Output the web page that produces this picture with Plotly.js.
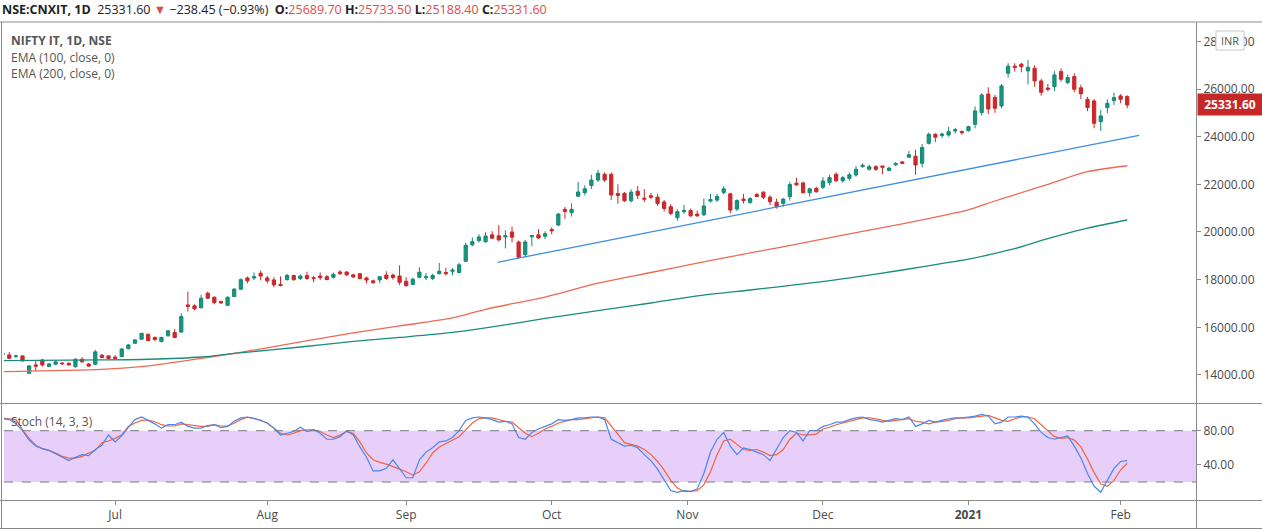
<!DOCTYPE html>
<html>
<head>
<meta charset="utf-8">
<script src="https://cdn.plot.ly/plotly-3.0.1.min.js"></script>
<style>
  html, body { margin: 0; padding: 0; background: #ffffff; }
  #chartDiv { width: 1262px; height: 530px; }
</style>
</head>
<body>
<div id="chartDiv"></div>
<script>
// daily OHLC of NIFTY IT, one entry per trading day (Jun 2020 - Feb 2021)
var opens = [14850,14840,14780,14800,14070,14420,14630,14360,14450,14500,14490,14350,14660,14460,14450,14830,14800,14750,14770,15100,
  15330,15500,15710,15570,15400,15640,15780,15800,16940,16900,16820,17430,17260,17080,16920,17290,17600,18070,18070,18270,
  18070,17990,17800,18000,18170,18050,18170,18080,18150,18120,18100,18320,18320,18200,18250,18070,17950,17990,18190,18190,
  18150,17930,17800,18100,18080,18050,18250,18300,18350,18300,18770,19460,19640,19590,19880,19840,19790,20000,19580,19050,
  19800,19880,19820,20100,20290,20950,20810,21500,21650,21950,22180,22420,22420,21610,21620,21310,21710,21420,21520,21460,
  21260,21060,20600,20850,20900,20750,20720,21300,21340,21660,21600,20960,21380,21240,21570,21670,21460,21250,21200,21480,
  22050,22060,21650,21830,21880,22070,22420,22150,22250,22390,22740,22630,22740,22770,22580,22820,22940,23140,23180,22880,
  23720,24100,24050,24070,24240,24220,24250,24520,25010,25790,25650,25290,26660,26960,27040,26760,26870,26340,26040,26100,
  26730,26270,26520,26050,25570,25500,24630,25220,25510,25710,25689.7];
var highs = [14950,14960,14850,14820,14420,14600,14670,14500,14600,14540,14530,14700,14740,14500,15050,14880,14830,14830,15130,15290,
  15500,15760,15730,15620,15610,15880,15930,16590,17500,16960,17360,17500,17300,17120,17290,17650,18050,18130,18300,18380,
  18150,18100,18140,18240,18210,18220,18330,18150,18300,18200,18300,18400,18350,18230,18270,18130,18000,18150,18350,18260,
  18600,18100,18080,18520,18280,18250,18700,18500,18480,18700,19550,19770,19900,19990,20030,20290,20070,20230,19640,19670,
  19870,20120,20030,20200,20800,21050,21200,22100,21960,22400,22600,22500,22500,22000,21680,21790,21930,21800,21640,21600,
  21340,21170,20950,21140,20980,20900,21400,21600,21600,21920,21650,21370,21600,21460,21640,21710,21540,21400,21430,22100,
  22280,22110,21850,21900,22300,22400,22500,22350,22500,22770,22880,22830,22800,22770,22740,22930,22980,23400,23450,23690,
  24170,24140,24170,24410,24370,24250,24460,25270,25830,26070,25750,26210,27080,27080,27100,27220,27000,26420,26210,26750,
  26860,26610,26660,26180,25670,25570,25120,25570,25850,25780,25733.5];
var lows = [14800,14670,14700,14560,14055,14170,14350,14330,14410,14430,14400,14300,14520,14350,14420,14700,14660,14650,14740,15080,
  15300,15480,15420,15430,15370,15620,15540,15770,16660,16710,16790,17200,16960,16990,16900,17270,17580,17850,17980,17970,
  17850,17680,17720,17960,17950,17980,17980,17890,17980,17980,18050,18200,18150,18080,18020,17850,17830,17850,17980,18000,
  17770,17700,17780,18050,17980,17980,18220,18170,18180,18290,18740,19400,19560,19550,19700,19600,19310,19560,18860,18940,
  19400,19710,19700,19900,20250,20550,20650,21480,21540,21800,22100,22100,21340,21190,21260,21230,21380,21250,21380,21100,
  20860,20700,20470,20770,20630,20630,20680,21240,21260,21580,20780,20880,21200,21180,21460,21380,21130,20980,21060,21320,
  21940,21600,21480,21650,21800,21960,22100,22070,22150,22320,22700,22580,22560,22420,22550,22760,22850,23130,22400,22710,
  23670,23770,23950,24000,24130,24080,24210,24350,24880,24950,25000,25190,26480,26730,26700,26190,26090,25720,25900,25910,
  26310,26200,25860,25570,25070,24350,24240,24990,25330,25400,25188.4];
var closes = [14900,14700,14800,14590,14380,14370,14420,14460,14550,14470,14420,14660,14550,14370,14970,14730,14690,14690,15090,15260,
  15470,15750,15440,15490,15570,15850,15570,16450,16870,16780,17220,17220,17040,17020,17260,17600,18000,17950,18120,18150,
  17950,17780,17750,18180,18000,18150,18050,18050,18080,18000,18220,18250,18200,18110,18040,17980,17870,18120,18050,18090,
  17890,17750,18020,18310,18120,18170,18350,18250,18400,18620,19440,19590,19790,19830,19740,19670,19840,19780,18940,19580,
  19850,19750,19930,20050,20750,20860,20950,21680,21810,22180,22460,22180,21550,21530,21310,21670,21540,21380,21460,21200,
  20990,20780,20850,20900,20680,20680,21090,21360,21490,21810,20920,21320,21320,21400,21490,21460,21270,21060,21380,21990,
  21980,21650,21810,21690,22140,22280,22150,22280,22400,22630,22800,22740,22630,22720,22680,22870,22880,23240,22810,23550,
  24100,23980,24110,24210,24290,24170,24420,25080,25750,25160,25190,26130,26960,26900,26940,26910,26340,25860,25990,26590,
  26410,26480,25990,25800,25220,24560,24870,25400,25640,25570,25331.6];

// moving averages read at sampled bars
var emaIdx  = [0,15,22,30,35,45,53,60,68,73,82,90,98,105,113,121,128,136,143,146,150,153,158,164,170];
var ema100  = [14138,14230,14377,14692,14902,15384,15762,16056,16391,16756,17270,17850,18300,18690,19120,19540,19920,20340,20740,20930,21300,21560,22000,22530,22780];
var ema200  = [14603,14629,14658,14754,14902,15174,15405,15573,15783,15972,16370,16700,17020,17314,17566,17818,18070,18405,18720,18860,19100,19300,19720,20160,20503];

// hand drawn trend line
var trendX = [74.8, 171.8];
var trendY = [18728, 24057];

// stochastic (14,3,3)
var stochK = [94,93,88,80,69,62,59,57,53,49,45,49,52,51,58,63,75,67,74,84,
  93,96,92,88,83,87,87,90,85,83,83,86,87,83.5,85,91,95,96,94.5,92,
  89,83,75,77,79,84,79,81,77,70,70,73,80,75,61,49,33,33,36,46,
  35,25,25,46,55,60,67,68,72,80,92,95,96,95,93,90,91,88,72,70,
  78,82,85,88,93,92,93,95,95,96,96,93,70,66,62,63,60,52,45,35,
  22,10,8,10,9,12,30,55,70,78,62,52,60,58,55,52,45,58,72,80,
  78,68,80,80,85,87,90,90,93,95,96,93,92,90,92,94,93,96,85,88,
  92,90,92,94,95,95,96,97,99,97,88,90,96,96,97,96,88,78,72,70,
  72,74,62,48,30,15,8,22,36,44,45];
var stochD = [94.5,94,93,81,71,63,59,57,54,50,48,48,50,54,57,66,68,71,75,85,
  89,92,92.5,90.5,87,85.5,85.5,88,87,85.5,85,85,87,85.5,85.5,88.7,93,95.7,94.5,92.5,
  88.7,83,77,75,77,80,81,81,79,75,72,75,79,77,67,54,46,43,41,38,
  35,32,28,32,42,54,61,65,69,73,81,89,94,95,95,93,91,90,84,77,
  73,77,82,85,89,91,93,93,94,95,96,95,86,76,66,64,62,58,52,44,
  34,22,13,9,9,10,17,32,52,68,70,64,58,57,58,55,51,52,58,70,
  77,75,75,76,82,84,87,89,91,93,95,95,94,92,91,92,93,94,91,90,
  88,90,91,92,94,95,95,96,97,98,95,92,91,94,96,96,94,87,79,73,
  71,72,69,61,47,31,18,15,22,34,42];

// month labels on the bar index axis
var monthPos = [17, 40, 61, 83, 103.5, 124, 146, 169];
var monthText = ['Jul', 'Aug', 'Sep', 'Oct', 'Nov', 'Dec', '<b>2021</b>', 'Feb'];

var priceTicks = [14000, 16000, 18000, 20000, 22000, 24000, 26000, 28000];

var barIdx = [];
for (var i = 0; i < closes.length; i++) barIdx.push(i);

var W = 1262, H = 530;
function px(x) { return x / W; } // pixel -> paper x
function py(y) { return 1 - y / H; } // pixel -> paper y

var upCol = '#138a74', downCol = '#c8282b';
var fnt = 'Open Sans, Noto Sans, sans-serif';

var data = [];
data.push({
  type: 'candlestick', x: barIdx, open: opens, high: highs, low: lows, close: closes,
  xaxis: 'x', yaxis: 'y',
  increasing: { line: { color: upCol, width: 1 }, fillcolor: '#1b9580' },
  decreasing: { line: { color: downCol, width: 1 }, fillcolor: '#cc2a2a' },
  whiskerwidth: 0, hoverinfo: 'none', showlegend: false
});
data.push({ type: 'scatter', mode: 'lines', x: emaIdx, y: ema100, line: { color: '#ec6a55', width: 1.3, shape: 'spline', smoothing: 0.8 }, xaxis: 'x', yaxis: 'y', showlegend: false, hoverinfo: 'none' });
data.push({ type: 'scatter', mode: 'lines', x: emaIdx, y: ema200, line: { color: '#1a8c7c', width: 1.3, shape: 'spline', smoothing: 0.8 }, xaxis: 'x', yaxis: 'y', showlegend: false, hoverinfo: 'none' });
data.push({ type: 'scatter', mode: 'lines', x: trendX, y: trendY, line: { color: '#3d8ee0', width: 1.3 }, xaxis: 'x', yaxis: 'y', showlegend: false, hoverinfo: 'none' });
data.push({ type: 'scatter', mode: 'lines', x: barIdx, y: stochD, line: { color: '#f0643c', width: 1.2 }, xaxis: 'x', yaxis: 'y2', showlegend: false, hoverinfo: 'none' });
data.push({ type: 'scatter', mode: 'lines', x: barIdx, y: stochK, line: { color: '#4a86ec', width: 1.2 }, xaxis: 'x', yaxis: 'y2', showlegend: false, hoverinfo: 'none' });

var frameCol = '#8a8a8a';
var shapes = [
  // overbought / oversold band
  { type: 'rect', xref: 'paper', yref: 'y2', x0: px(4), x1: px(1196), y0: 20, y1: 80, fillcolor: '#e8cffa', line: { width: 0 }, layer: 'below' },
  { type: 'line', xref: 'paper', yref: 'y2', x0: px(4), x1: px(1196), y0: 80, y1: 80, line: { color: '#787b86', width: 1, dash: 'dash' } },
  { type: 'line', xref: 'paper', yref: 'y2', x0: px(4), x1: px(1196), y0: 20, y1: 20, line: { color: '#787b86', width: 1, dash: 'dash' } },
  // frame
  { type: 'line', xref: 'paper', yref: 'paper', x0: px(0), x1: px(1262), y0: py(22), y1: py(22), line: { color: frameCol, width: 1 } },
  { type: 'line', xref: 'paper', yref: 'paper', x0: px(0), x1: px(1262), y0: py(403.5), y1: py(403.5), line: { color: frameCol, width: 1 } },
  { type: 'line', xref: 'paper', yref: 'paper', x0: px(0), x1: px(1262), y0: py(500.5), y1: py(500.5), line: { color: frameCol, width: 1 } },
  { type: 'line', xref: 'paper', yref: 'paper', x0: px(0), x1: px(1262), y0: py(528.5), y1: py(528.5), line: { color: frameCol, width: 1 } },
  { type: 'line', xref: 'paper', yref: 'paper', x0: px(1.5), x1: px(1.5), y0: py(22), y1: py(529), line: { color: frameCol, width: 1 } },
  { type: 'line', xref: 'paper', yref: 'paper', x0: px(1196.5), x1: px(1196.5), y0: py(22), y1: py(529), line: { color: frameCol, width: 1 } },
  // currency badge
  { type: 'rect', xref: 'paper', yref: 'paper', x0: px(1216), x1: px(1244), y0: py(50), y1: py(31), fillcolor: '#ffffff', line: { color: '#c8c8c8', width: 1 } }
];

var red = '#e04a4a';
var headerText = '<b>NSE:CNXIT, 1D</b>  25331.60 <span style="color:' + red + '">▼</span> −238.45 (−0.93%)  ' +
  '<b>O:</b><span style="color:' + red + '">25689.70</span> <b>H:</b><span style="color:' + red + '">25733.50</span> ' +
  '<b>L:</b><span style="color:' + red + '">25188.40</span> <b>C:</b><span style="color:' + red + '">25331.60</span>';

var legendCol = '#555555';
var annotations = [
  { xref: 'paper', yref: 'paper', x: px(0), y: py(10), xanchor: 'left', yanchor: 'middle', text: headerText, showarrow: false, font: { family: fnt, size: 12.5, color: '#222222' } },
  { xref: 'paper', yref: 'paper', x: px(9), y: py(41), xanchor: 'left', yanchor: 'middle', text: '<b>NIFTY IT, 1D, NSE</b>', showarrow: false, font: { family: fnt, size: 12, color: legendCol } },
  { xref: 'paper', yref: 'paper', x: px(9), y: py(58), xanchor: 'left', yanchor: 'middle', text: 'EMA (100, close, 0)', showarrow: false, font: { family: fnt, size: 12, color: legendCol } },
  { xref: 'paper', yref: 'paper', x: px(9), y: py(74), xanchor: 'left', yanchor: 'middle', text: 'EMA (200, close, 0)', showarrow: false, font: { family: fnt, size: 12, color: legendCol } },
  { xref: 'paper', yref: 'paper', x: px(9), y: py(421), xanchor: 'left', yanchor: 'middle', text: 'Stoch (14, 3, 3)', showarrow: false, font: { family: fnt, size: 12, color: legendCol } },
  { xref: 'paper', yref: 'paper', x: px(1230), y: py(40.5), xanchor: 'center', yanchor: 'middle', text: 'INR', showarrow: false, font: { family: fnt, size: 11, color: '#555555' } },
  { xref: 'paper', yref: 'y', x: px(1197), y: closes[closes.length - 1], xanchor: 'left', yanchor: 'middle', text: '<b>' + closes[closes.length - 1].toFixed(2) + '</b>',
    showarrow: false, bgcolor: '#c62828', borderpad: 2, width: 60, font: { family: fnt, size: 12, color: '#ffffff' } }
];

var layout = {
  width: W, height: H,
  margin: { l: 0, r: 0, t: 0, b: 0 },
  paper_bgcolor: '#ffffff', plot_bgcolor: 'rgba(0,0,0,0)',
  showlegend: false,
  dragmode: false,
  font: { family: fnt, size: 12, color: '#4a4a4a' },
  xaxis: {
    domain: [px(4), px(1196)], range: [0.2, 180.4], anchor: 'y2',
    rangeslider: { visible: false },
    tickmode: 'array', tickvals: monthPos, ticktext: monthText,
    ticks: 'outside', ticklen: 4, tickcolor: frameCol,
    showgrid: false, zeroline: false, showline: false,
    tickfont: { family: fnt, size: 12, color: '#4a4a4a' }
  },
  yaxis: {
    domain: [py(403), py(22)], range: [12823, 28812], side: 'right', anchor: 'x',
    tickmode: 'array', tickvals: priceTicks, tickformat: '.2f',
    ticks: 'outside', ticklen: 4, tickcolor: frameCol,
    showgrid: false, zeroline: false, showline: false,
    tickfont: { family: fnt, size: 12, color: '#4a4a4a' }
  },
  yaxis2: {
    domain: [py(500), py(404)], range: [-1, 111.2], side: 'right', anchor: 'x',
    tickmode: 'array', tickvals: [40, 80], tickformat: '.2f',
    ticks: 'outside', ticklen: 4, tickcolor: frameCol,
    showgrid: false, zeroline: false, showline: false,
    tickfont: { family: fnt, size: 12, color: '#4a4a4a' }
  },
  shapes: shapes,
  annotations: annotations
};

Plotly.newPlot('chartDiv', data, layout, { staticPlot: true, displayModeBar: false });
</script>
</body>
</html>
